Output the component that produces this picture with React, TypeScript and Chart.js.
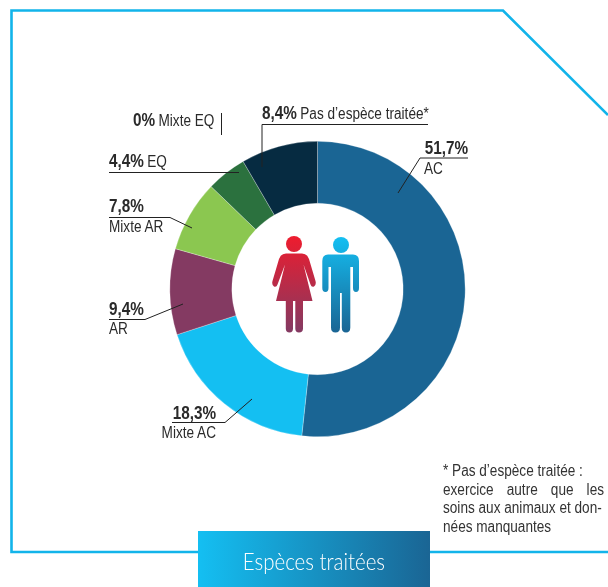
import React, { useEffect, useRef } from "react";
import { Chart, registerables } from "chart.js";

Chart.register(...registerables);

const categories = ["AC", "Mixte AC", "AR", "Mixte AR", "Mixte EQ", "EQ", "Pas d’espèce traitée*"];
const shares = [51.7, 18.3, 9.4, 7.8, 0, 4.4, 8.4];
const sliceColors = ["#1a6594", "#14bff2", "#843a62", "#8bc750", "#2b713e", "#2b713e", "#062b41"];

const FONT = "'Liberation Sans', sans-serif";
const INK = "#2a2a2a";
const NARROW = 0.85;

const leaderLines: number[][][] = [
  [[262, 167], [262, 124.5], [428, 124.5]],
  [[468, 158], [420, 158], [398, 193]],
  [[221.5, 113], [221.5, 135]],
  [[109, 172.5], [239, 172.5]],
  [[109, 217.5], [170, 217.5], [192, 228]],
  [[109, 319.5], [145, 319.5], [183, 304]],
  [[172, 422.5], [225, 422.5], [252, 399]],
];

const framePlugin = {
  id: "frame",
  beforeDraw(chart: Chart) {
    const c = chart.ctx;
    c.save();
    c.strokeStyle = "#12b4ea";
    c.lineWidth = 2.6;
    c.beginPath();
    c.moveTo(608, 115);
    c.lineTo(503, 10.5);
    c.lineTo(11.5, 10.5);
    c.lineTo(11.5, 552);
    c.lineTo(608, 552);
    c.stroke();
    c.restore();
  },
  afterDraw(chart: Chart) {
    const c = chart.ctx;
    c.save();
    c.strokeStyle = "#222";
    c.lineWidth = 1;
    for (const line of leaderLines) {
      c.beginPath();
      line.forEach(([x, y], i) => (i ? c.lineTo(x, y) : c.moveTo(x, y)));
      c.stroke();
    }
    c.restore();
  },
};

function Label(props: { x: number; y: number; right?: boolean; bold?: string; text?: string }) {
  const { x, y, right, bold, text } = props;
  return (
    <div
      style={{
        position: "absolute",
        top: y - 10,
        height: 20,
        lineHeight: "20px",
        whiteSpace: "nowrap",
        fontFamily: FONT,
        fontSize: 16,
        color: INK,
        transform: `scaleX(${NARROW})`,
        transformOrigin: right ? "right center" : "left center",
        ...(right ? { right: 608 - x } : { left: x }),
      }}
    >
      {bold ? <b style={{ fontSize: 18, marginRight: text ? 4 : 0 }}>{bold}</b> : null}
      {text}
    </div>
  );
}

function People() {
  return (
    <svg width={608} height={587} style={{ position: "absolute", left: 0, top: 0 }}>
      <defs>
        <linearGradient id="w" gradientUnits="userSpaceOnUse" x1="0" y1="236" x2="0" y2="332">
          <stop offset="0" stopColor="#ee1c2e" />
          <stop offset="1" stopColor="#843a62" />
        </linearGradient>
        <linearGradient id="m" gradientUnits="userSpaceOnUse" x1="0" y1="237" x2="0" y2="332">
          <stop offset="0" stopColor="#14bff2" />
          <stop offset="1" stopColor="#1a6594" />
        </linearGradient>
      </defs>
      <g fill="url(#w)">
        <circle cx="294" cy="244" r="8" />
        <path d="M286 253.500 H302 Q307 253.500 309 259 L315.500 281 Q316.500 285 314 286.500 Q311.500 287.500 310.500 284.500 L303.500 264.500 L312.500 301 H303 V328.500 Q303 332.500 299 332.500 Q295.300 332.500 295.300 328.500 V301 H293 V328.500 Q293 332.500 289.500 332.500 Q285.800 332.500 285.800 328.500 V301 H276 L285 264.500 L277.500 284.500 Q276.500 287.500 274 286.500 Q271.500 285 272.500 281 L279 259 Q281 253.500 286 253.500 Z" />
      </g>
      <g fill="url(#m)">
        <circle cx="341" cy="245" r="8" />
        <path d="M328 254.500 H353 Q359 254.500 359 261 V288 Q359 292 356 292 Q353 292 353 288 V267 H350.300 V327.500 Q350.300 332.500 346 332.500 Q341.800 332.500 341.800 327.500 V293 H340 V327.500 Q340 332.500 335.500 332.500 Q331 332.500 331 327.500 V267 H328.500 V288 Q328.500 292 325.500 292 Q322.300 292 322.300 288 V261 Q322.300 254.500 328 254.500 Z" />
      </g>
    </svg>
  );
}

export default function App() {
  const ref = useRef<HTMLCanvasElement>(null);
  useEffect(() => {
    const chart = new Chart(ref.current!, {
      type: "doughnut",
      data: {
        labels: categories,
        datasets: [
          {
            data: shares,
            backgroundColor: sliceColors,
            borderColor: "rgba(255,255,255,0.45)",
            borderWidth: 0.6,
          },
        ],
      },
      options: {
        responsive: false,
        animation: false,
        cutout: "58%",
        layout: { padding: { left: 169, right: 142, top: 141, bottom: 150 } },
        plugins: { legend: { display: false }, tooltip: { enabled: false } },
      },
      plugins: [framePlugin],
    });
    return () => chart.destroy();
  }, []);

  const noteLine = { whiteSpace: "nowrap" as const };
  return (
    <div style={{ position: "absolute", left: 0, top: 0, width: 608, height: 587, overflow: "hidden", background: "#fff" }}>
      <canvas ref={ref} width={608} height={587} style={{ position: "absolute", left: 0, top: 0 }} />
      <People />
      <Label x={133} y={120} bold="0%" text="Mixte EQ" />
      <Label x={262} y={113} bold="8,4%" text="Pas d’espèce traitée*" />
      <Label x={468} y={148} right bold="51,7%" />
      <Label x={424} y={169} text="AC" />
      <Label x={109} y={161} bold="4,4%" text="EQ" />
      <Label x={109} y={206} bold="7,8%" />
      <Label x={109} y={227} text="Mixte AR" />
      <Label x={109} y={309} bold="9,4%" />
      <Label x={109} y={329} text="AR" />
      <Label x={216} y={413} right bold="18,3%" />
      <Label x={216} y={433} right text="Mixte AC" />
      <div
        style={{
          position: "absolute",
          left: 443,
          top: 462,
          width: 161 / NARROW,
          fontFamily: FONT,
          fontSize: 16,
          lineHeight: "18.7px",
          color: "#333",
          transform: `scaleX(${NARROW})`,
          transformOrigin: "left top",
        }}
      >
        <div style={noteLine}>* Pas d’espèce traitée :</div>
        <div style={{ textAlign: "justify", textAlignLast: "justify" }}>exercice autre que les</div>
        <div style={noteLine}>soins aux animaux et don-</div>
        <div style={noteLine}>nées manquantes</div>
      </div>
      <div
        style={{
          position: "absolute",
          left: 198,
          top: 531,
          width: 232,
          height: 56,
          background: "linear-gradient(90deg, #14bff2, #1a6594)",
          color: "#fff",
          fontFamily: "Lato, 'Open Sans', sans-serif",
          fontWeight: 300,
          fontSize: 23,
          lineHeight: "60px",
          textAlign: "center",
        }}
      >
        <span style={{ display: "inline-block", transform: "scaleX(0.89)" }}>Espèces traitées</span>
      </div>
    </div>
  );
}
